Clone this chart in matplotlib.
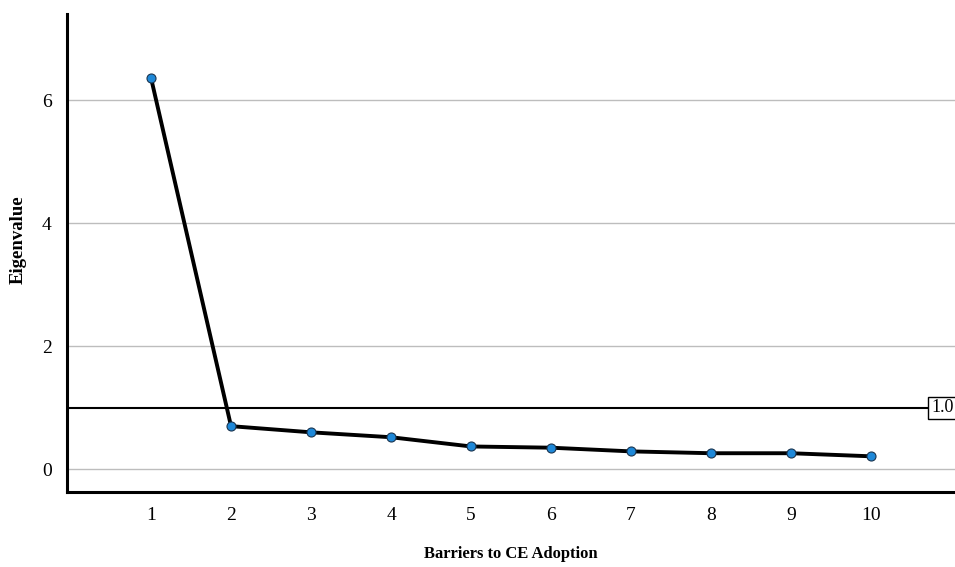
import numpy as np
import matplotlib.pyplot as plt

# eigenvalues
components = [1, 2, 3, 4, 5, 6, 7, 8, 9, 10]
eigenvalues = [6.36, 0.70, 0.60, 0.52, 0.37, 0.35, 0.29, 0.26, 0.26, 0.21]
cutoff = 1.0

plt.rcParams['font.family'] = ['Liberation Serif', 'DejaVu Serif']

fig = plt.figure(figsize=(9.55, 5.67), dpi=100)
ax = fig.add_axes([0.0702, 0.1323, 0.9298, 0.843])

ax.set_axisbelow(True)
ax.yaxis.grid(True, color='#bdbdbd', linewidth=1.0)
ax.axhline(cutoff, color='black', linewidth=1.5, zorder=2)

ax.plot(components, eigenvalues, color='black', linewidth=2.8, zorder=3)
ax.plot(components, eigenvalues, linestyle='none', marker='o', markersize=6.5,
        markerfacecolor='#1e88d8', markeredgecolor='#1a3550', markeredgewidth=0.8, zorder=4)

ax.text(11.03, cutoff, '1.0', ha='right', va='center', fontsize=13,
        bbox=dict(boxstyle='square,pad=0.15', facecolor='white', edgecolor='black', linewidth=1.0),
        zorder=5)

ax.set_xlim(-0.05, 11.05)
ax.set_ylim(-0.37, 7.4)
ax.set_xticks(components)
ax.set_yticks([0, 2, 4, 6])
ax.tick_params(axis='both', length=0, labelsize=14)
ax.tick_params(axis='x', pad=11)
ax.tick_params(axis='y', pad=11)

for side in ['top', 'right']:
    ax.spines[side].set_visible(False)
for side in ['left', 'bottom']:
    ax.spines[side].set_linewidth(2.2)

ax.set_xlabel('Barriers to CE Adoption', fontsize=12, fontweight='bold', labelpad=16)
fig.text(18 / 955, 0.578, 'Eigenvalue', rotation=90, ha='center', va='center',
         fontsize=13.5, fontweight='bold')

fig.savefig('out.png', dpi=100)
